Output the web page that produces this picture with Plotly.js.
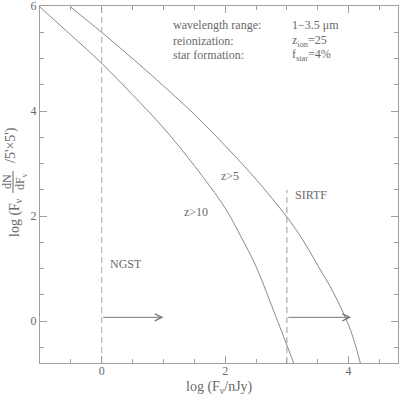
<!DOCTYPE html>
<html>
<head>
<meta charset="utf-8">
<script src="https://cdn.plot.ly/plotly-3.0.1.min.js"></script>
<style>html,body{margin:0;padding:0;background:#fff;}#chart{width:400px;height:397px;}</style>
</head>
<body>
<div id="chart"></div>
<script>
// ---- data ----
const z10X = [-1.0, -0.5, 0, 0.5, 1.0, 1.5, 2.0, 2.25, 2.5, 2.75, 3.0, 3.11];
const z10Y = [5.98, 5.45, 4.91, 4.31, 3.68, 2.96, 2.15, 1.62, 1.04, 0.30, -0.46, -0.80];
const z5X = [-0.5, 0, 0.5, 1.0, 1.5, 2.0, 2.5, 3.0, 3.25, 3.5, 3.75, 4.0, 4.1, 4.19];
const z5Y = [5.98, 5.50, 5.00, 4.48, 3.94, 3.34, 2.70, 1.98, 1.56, 1.06, 0.55, -0.08, -0.42, -0.80];
const ngstX = [0, 0];
const ngstY = [-0.8, 6];
const sirtfX = [3, 3];
const sirtfY = [-0.8, 2.5];
const ngstArrow = {from: 0, to: 1.0, y: 0.07};
const sirtfArrow = {from: 3, to: 4.04, y: 0.07};
const xTicks = [0, 2, 4];
const yTicks = [0, 2, 4, 6];
const infoLabels = ["wavelength range:", "reionization:", "star formation:"];
const infoValues = ["1\u22123.5 \u03bcm", "z<sub>ion</sub>=25", "f<sub>star</sub>=4%"];

const FONT = "Liberation Serif, Times New Roman, serif";
const CURVE = "#8a8a8a";
const TXT = "#6a6a6a";
const AX = "#a0a0a0";

const traces = [
  {x: z10X, y: z10Y, mode: "lines", line: {color: CURVE, width: 1, shape: "spline"}, hoverinfo: "skip"},
  {x: z5X, y: z5Y, mode: "lines", line: {color: CURVE, width: 1, shape: "spline"}, hoverinfo: "skip"},
  {x: ngstX, y: ngstY, mode: "lines", line: {color: "#aaaaaa", width: 1, dash: "6px,4px"}, hoverinfo: "skip"},
  {x: sirtfX, y: sirtfY, mode: "lines", line: {color: "#999999", width: 1, dash: "6px,4px"}, hoverinfo: "skip"}
];

const ann = [];
const infoY = [5.64, 5.34, 5.06];
infoLabels.forEach((t, i) => {
  ann.push({x: 1.12, y: infoY[i], xref: "x", yref: "y", text: t, showarrow: false, xanchor: "left", yanchor: "middle", font: {family: FONT, size: 12, color: TXT}});
  ann.push({x: 3.05, y: infoY[i], xref: "x", yref: "y", text: infoValues[i], showarrow: false, xanchor: "left", yanchor: "middle", font: {family: FONT, size: 12, color: TXT}});
});
ann.push({x: 2.08, y: 2.77, xref: "x", yref: "y", text: "z>5", showarrow: false, xanchor: "center", yanchor: "middle", font: {family: FONT, size: 12, color: TXT}});
ann.push({x: 1.53, y: 2.07, xref: "x", yref: "y", text: "z>10", showarrow: false, xanchor: "center", yanchor: "middle", font: {family: FONT, size: 12, color: TXT}});
ann.push({x: 0.1, y: 1.08, xref: "x", yref: "y", text: "NGST", showarrow: false, xanchor: "left", yanchor: "middle", font: {family: FONT, size: 12, color: TXT}});
ann.push({x: 3.1, y: 2.4, xref: "x", yref: "y", text: "SIRTF", showarrow: false, xanchor: "left", yanchor: "middle", font: {family: FONT, size: 12, color: TXT}});
[ngstArrow, sirtfArrow].forEach(a => {
  ann.push({x: a.to, y: a.y, ax: a.from, ay: a.y, xref: "x", yref: "y", axref: "x", ayref: "y", text: "", showarrow: true,
    arrowhead: 5, arrowsize: 1.4, arrowwidth: 1, arrowcolor: "#777777"});
});
const px = v => (v - 40) / 358;
const py = v => (363 - v) / 357;
const C = {xanchor: "center", yanchor: "middle", showarrow: false, xref: "paper", yref: "paper"};
// x-axis title
ann.push(Object.assign({}, C, {x: 0.5, y: py(387), text: "log (F<sub>\u03bd</sub>/nJy)", font: {family: FONT, size: 14, color: TXT}}));
// y-axis title pieces (rotated)
ann.push(Object.assign({}, C, {x: px(15), y: py(218), text: "log (F<sub>\u03bd</sub>", textangle: -90, font: {family: FONT, size: 14, color: TXT}}));
ann.push(Object.assign({}, C, {x: px(7), y: py(182), text: "dN", textangle: -90, font: {family: FONT, size: 12, color: TXT}}));
ann.push(Object.assign({}, C, {x: px(21), y: py(182), text: "dF<sub>\u03bd</sub>", textangle: -90, font: {family: FONT, size: 12, color: TXT}}));
ann.push(Object.assign({}, C, {x: px(11), y: py(145), text: "/5'\u00d75')", textangle: -90, font: {family: FONT, size: 14, color: TXT}}));

const shapes = [
  {type: "line", xref: "paper", yref: "paper", x0: px(13), x1: px(13), y0: py(171), y1: py(193), line: {color: TXT, width: 1}}
];

const axisCommon = {
  showgrid: false, zeroline: false, showline: true, linecolor: AX, linewidth: 1, mirror: "ticks",
  ticks: "inside", ticklen: 7, tickcolor: AX, tickwidth: 1,
  ticklabeloverflow: "allow",
  tickfont: {family: FONT, size: 12, color: TXT},
  minor: {dtick: 0.5, ticks: "inside", ticklen: 4, tickcolor: AX, tickwidth: 1, showgrid: false}
};

const layout = {
  width: 400, height: 397,
  margin: {l: 40, r: 2, t: 6, b: 34},
  paper_bgcolor: "#ffffff", plot_bgcolor: "#ffffff",
  showlegend: false,
  xaxis: Object.assign({}, axisCommon, {range: [-1, 4.8], tickvals: xTicks, ticktext: xTicks.map(String), ticklabelstandoff: -3}),
  yaxis: Object.assign({}, axisCommon, {range: [-0.8, 6.002], tickvals: yTicks, ticktext: yTicks.map(String)}),
  annotations: ann,
  shapes: shapes
};

Plotly.newPlot("chart", traces, layout, {staticPlot: true, displayModeBar: false});
</script>
</body>
</html>
